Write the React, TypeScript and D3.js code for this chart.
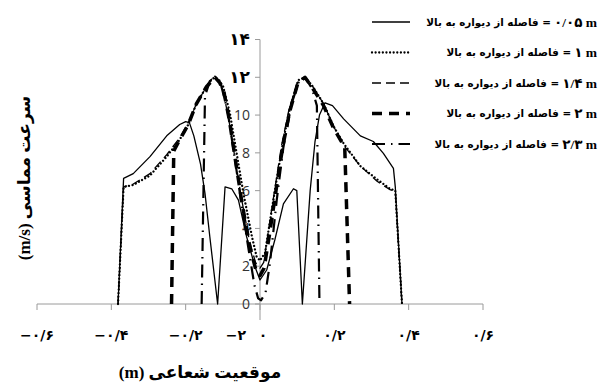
import { useEffect, useRef } from 'react'
import * as d3 from 'd3'

// فاصله از دیواره به بالا (m) for each series
const SERIES_LABELS = ['۰/۰۵', '۱', '۱/۴', '۲', '۲/۳']

// [radial position (m), tangential velocity (m/s)]
const LINE_005: [number, number][] = [
  [-0.382, 0], [-0.367, 6.65], [-0.341, 6.9], [-0.296, 7.8], [-0.251, 8.9], [-0.216, 9.5],
  [-0.2, 9.65], [-0.19, 9.6], [-0.178, 8.9], [-0.16, 7.4], [-0.148, 5.86], [-0.135, 3.56], [-0.114, 0],
  [-0.094, 6.2], [-0.076, 6.1], [-0.058, 5.5], [-0.036, 3.56], [-0.0135, 1.97], [0, 1.27],
  [0.018, 1.8], [0.04, 3.4], [0.063, 5.3], [0.09, 6.1], [0.099, 6.0], [0.114, 0],
  [0.135, 6.0], [0.148, 8.6], [0.16, 10.0], [0.175, 10.65], [0.195, 10.5], [0.225, 9.8],
  [0.27, 8.9], [0.305, 8.6], [0.332, 7.97], [0.359, 7.18], [0.364, 6.2], [0.382, 0]
]

const LINE_1: [number, number][] = [
  [-0.382, 0], [-0.367, 6.2], [-0.341, 6.3], [-0.296, 6.8], [-0.251, 7.8], [-0.216, 8.7],
  [-0.193, 9.5], [-0.171, 10.6], [-0.144, 11.5], [-0.13, 11.9], [-0.121, 12.0], [-0.11, 11.85],
  [-0.099, 11.5], [-0.081, 10.1], [-0.063, 8.0], [-0.045, 5.9], [-0.022, 3.6], [-0.009, 2.5],
  [0, 2.3], [0.0135, 2.7], [0.027, 4.4], [0.045, 6.6], [0.063, 8.7], [0.081, 10.4],
  [0.103, 11.85], [0.121, 12.0], [0.139, 11.6], [0.171, 10.6], [0.198, 9.4], [0.225, 8.5],
  [0.27, 7.3], [0.315, 6.6], [0.35, 6.1], [0.364, 6.0], [0.382, 0]
]

const LINE_14: [number, number][] = [
  [-0.382, 0], [-0.367, 6.2], [-0.341, 6.35], [-0.296, 6.9], [-0.251, 7.9], [-0.216, 8.8],
  [-0.193, 9.6], [-0.171, 10.6], [-0.144, 11.5], [-0.13, 11.9], [-0.121, 12.0], [-0.11, 11.8],
  [-0.1, 11.3], [-0.085, 9.9], [-0.068, 7.8], [-0.05, 5.6], [-0.028, 3.3], [-0.012, 2.2],
  [0, 1.9], [0.01, 2.2], [0.022, 3.8], [0.04, 6.1], [0.058, 8.4], [0.078, 10.3],
  [0.1, 11.7], [0.121, 12.0], [0.139, 11.6], [0.171, 10.6], [0.198, 9.4], [0.225, 8.4],
  [0.27, 7.3], [0.315, 6.5], [0.35, 6.05], [0.364, 5.95], [0.382, 0]
]

const LINE_2: [number, number][] = [
  [-0.238, 0], [-0.232, 8.1], [-0.216, 8.7], [-0.193, 9.5], [-0.171, 10.6], [-0.144, 11.5],
  [-0.121, 12.0], [-0.108, 11.7], [-0.097, 11.2], [-0.083, 9.8], [-0.066, 7.6], [-0.048, 5.3],
  [-0.027, 3.0], [-0.011, 1.8], [0, 1.5], [0.011, 1.9], [0.025, 3.6], [0.043, 6.0],
  [0.061, 8.3], [0.08, 10.2], [0.102, 11.7], [0.121, 12.0], [0.139, 11.5], [0.171, 10.5],
  [0.198, 9.3], [0.228, 8.3], [0.241, 0]
]

const LINE_23: [number, number][] = [
  [-0.157, 0], [-0.148, 11.0], [-0.135, 11.8], [-0.121, 12.0], [-0.105, 11.6], [-0.088, 10.3],
  [-0.07, 8.0], [-0.05, 5.3], [-0.03, 2.8], [-0.015, 1.0], [-0.005, 0.3], [0.003, 0.2],
  [0.015, 0.6], [0.027, 2.2], [0.045, 5.5], [0.063, 8.3], [0.085, 10.6], [0.105, 11.8],
  [0.121, 12.0], [0.14, 11.4], [0.153, 10.5], [0.16, 0]
]

const SERIES = [LINE_005, LINE_1, LINE_14, LINE_2, LINE_23]

const X_TICKS = [-0.6, -0.4, -0.2, 0, 0.2, 0.4, 0.6]
const X_TICK_LABELS = ['−۰/۶', '−۰/۴', '−۰/۲', '۰', '۰/۲', '۰/۴', '۰/۶']
const Y_TICKS = [0, 2, 4, 6, 8, 10, 12, 14]
const Y_TICK_LABELS = ['0', '2', '4', '6', '8', '10', '۱۲', '۱۴']

const LEGEND_TEXT = 'فاصله از دیواره به بالا ='
const Y_TITLE = '(m/s) سرعت مماسی'
const X_TITLE = '(m) موقعیت شعاعی'

const STYLES = [
  { width: 1.3, dash: null, cap: 'butt' },
  { width: 2.3, dash: '0.01 3.6', cap: 'round' },
  { width: 1.3, dash: '9 5', cap: 'butt' },
  { width: 3.5, dash: '10 7', cap: 'butt' },
  { width: 2.2, dash: '13 6 1.5 6', cap: 'butt' }
]

const FA = "'DejaVu Sans', sans-serif"
const SERIF = "'Liberation Serif', 'DejaVu Sans', serif"

const App = () => {
  const ref = useRef<SVGSVGElement>(null)

  useEffect(() => {
    const svg = d3.select(ref.current)
    svg.selectAll('*').remove()

    const x = d3.scaleLinear().domain([-0.6, 0.6]).range([37, 483])
    const y = d3.scaleLinear().domain([0, 14]).range([304, 39.5])
    const axisColor = '#9a9a9a'

    // axes
    svg.append('line')
      .attr('x1', x(-0.6)).attr('x2', x(0.6)).attr('y1', y(0)).attr('y2', y(0))
      .attr('stroke', axisColor)
    svg.append('line')
      .attr('x1', x(0)).attr('x2', x(0)).attr('y1', y(14)).attr('y2', y(0) + 16)
      .attr('stroke', axisColor)

    svg.selectAll('.xtick').data(X_TICKS).enter().append('line')
      .attr('x1', d => x(d)).attr('x2', d => x(d))
      .attr('y1', y(0)).attr('y2', y(0) + 6)
      .attr('stroke', axisColor)

    svg.selectAll('.ytick').data(Y_TICKS).enter().append('line')
      .attr('x1', x(0) - 5).attr('x2', x(0))
      .attr('y1', d => y(d)).attr('y2', d => y(d))
      .attr('stroke', axisColor)

    svg.selectAll('.xlabel').data(X_TICKS).enter().append('text')
      .attr('x', d => x(d) + (d === 0 ? 3 : 0))
      .attr('y', y(0) + 36)
      .attr('text-anchor', 'middle')
      .style('font-family', FA)
      .style('font-weight', 'bold')
      .style('font-size', '14px')
      .text((d, i) => X_TICK_LABELS[i])

    svg.append('text')
      .attr('x', x(-0.065))
      .attr('y', y(0) + 36)
      .attr('text-anchor', 'middle')
      .style('font-family', FA)
      .style('font-weight', 'bold')
      .style('font-size', '14px')
      .text('−۲')

    svg.selectAll('.ylabel').data(Y_TICKS).enter().append('text')
      .attr('x', x(0) - 10)
      .attr('y', d => y(d))
      .attr('dy', '0.35em')
      .attr('text-anchor', 'end')
      .style('font-family', (d, i) => Y_TICK_LABELS[i].match(/[0-9]/) ? "'Open Sans', sans-serif" : FA)
      .style('font-weight', (d, i) => Y_TICK_LABELS[i].match(/[0-9]/) ? 'normal' : 'bold')
      .style('font-size', (d, i) => Y_TICK_LABELS[i].match(/[0-9]/) ? '14px' : '17px')
      .style('fill', (d, i) => Y_TICK_LABELS[i].match(/[0-9]/) ? '#333' : '#000')
      .text((d, i) => Y_TICK_LABELS[i])

    // series
    const line = d3.line<[number, number]>()
      .x(d => x(d[0]))
      .y(d => y(d[1]))

    SERIES.forEach((data, i) => {
      const s = STYLES[i]
      svg.append('path')
        .attr('d', line(data))
        .attr('fill', 'none')
        .attr('stroke', '#000')
        .attr('stroke-width', s.width)
        .attr('stroke-linecap', s.cap)
        .attr('stroke-linejoin', 'round')
        .attr('stroke-dasharray', s.dash)
    })

    // legend: phrase font sized so the first row's phrase starts at x=426
    let phraseSize = 12
    SERIES_LABELS.forEach((lab, i) => {
      const ly = 22 + i * 30.5
      const g = svg.append('g')
      const num = g.append('text')
        .attr('x', 597).attr('y', ly).attr('dy', '0.35em')
        .attr('text-anchor', 'end')
        .style('font-family', SERIF)
        .style('font-weight', 'bold')
        .style('font-size', '13.5px')
        .text(lab + ' m')
      const w = (num.node() as SVGTextElement).getComputedTextLength()
      const right = 597 - w - 3
      const phrase = g.append('text')
        .attr('x', right).attr('y', ly).attr('dy', '0.35em')
        .attr('text-anchor', 'end')
        .style('font-family', FA)
        .style('font-weight', 'bold')
        .style('font-size', phraseSize + 'px')
        .text(LEGEND_TEXT)
      if (i === 0) {
        const pw = (phrase.node() as SVGTextElement).getComputedTextLength()
        phraseSize = phraseSize * (right - 426) / pw
        phrase.style('font-size', phraseSize + 'px')
      }
      const s = STYLES[i]
      g.append('line')
        .attr('x1', 372).attr('x2', 410).attr('y1', ly).attr('y2', ly)
        .attr('stroke', '#000')
        .attr('stroke-width', s.width)
        .attr('stroke-linecap', s.cap)
        .attr('stroke-dasharray', s.dash)
    })

    // axis titles
    svg.append('text')
      .attr('x', 200).attr('y', 378)
      .attr('text-anchor', 'middle')
      .style('font-family', SERIF)
      .style('font-weight', 'bold')
      .style('font-size', '17px')
      .text(X_TITLE)

    svg.append('text')
      .attr('transform', 'translate(30,178) rotate(-90)')
      .attr('text-anchor', 'middle')
      .style('font-family', SERIF)
      .style('font-weight', 'bold')
      .style('font-size', '17px')
      .text(Y_TITLE)
  }, [])

  return (
    <svg
      ref={ref}
      width={606}
      height={387}
      style={{ position: 'absolute', left: 0, top: 0, background: '#fff' }}
    />
  )
}

export default App
